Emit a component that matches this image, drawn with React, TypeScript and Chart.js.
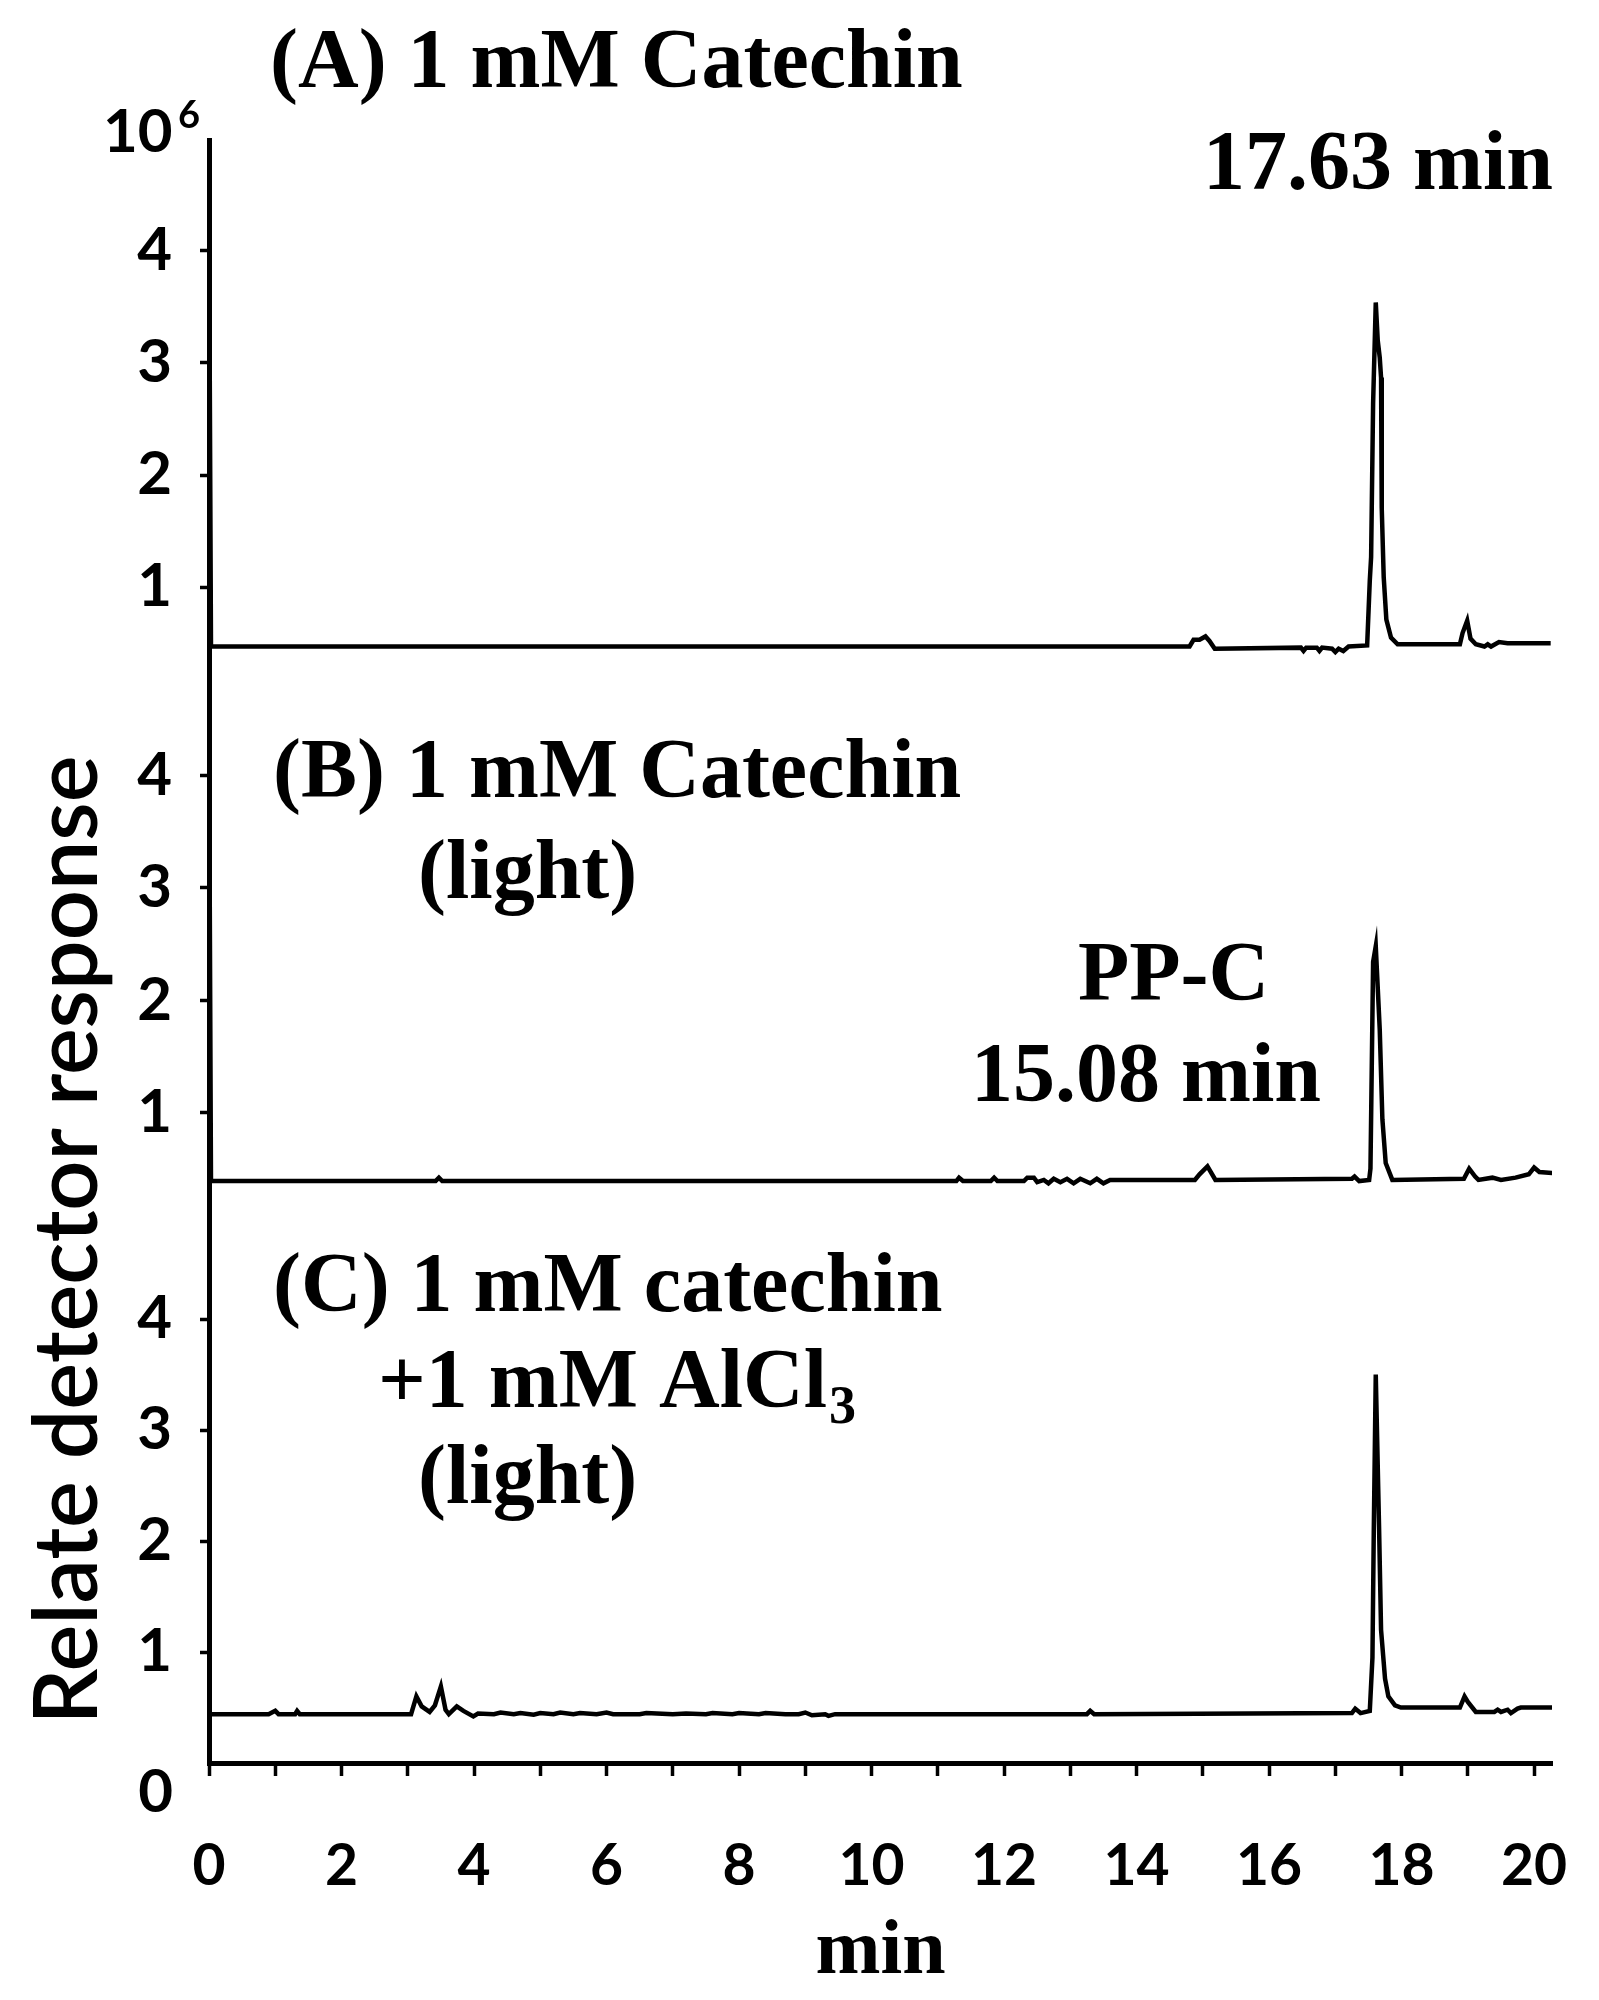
import React, { useEffect, useRef } from "react";
import { Chart, registerables } from "chart.js";

Chart.register(...registerables);

// ---- data (minutes, relative detector response x10^6) ----
const timesA = [0, 0.03, 14.8, 14.86, 14.95, 15.04, 15.1, 15.18, 16.48, 16.52, 16.56, 16.72, 16.76, 16.8, 16.95, 17.0, 17.05, 17.12, 17.2, 17.48, 17.52, 17.54, 17.57, 17.61, 17.64, 17.67, 17.69, 17.7, 17.73, 17.77, 17.84, 17.94, 18.88, 18.92, 18.99, 19.04, 19.12, 19.25, 19.3, 19.35, 19.47, 19.6, 20.25];
const valuesA = [4.4, 0.47, 0.47, 0.53, 0.53, 0.56, 0.52, 0.45, 0.46, 0.43, 0.46, 0.46, 0.43, 0.46, 0.45, 0.42, 0.45, 0.43, 0.47, 0.48, 1.06, 1.27, 2.64, 3.54, 3.2, 3.05, 2.87, 1.71, 1.09, 0.71, 0.55, 0.49, 0.49, 0.59, 0.7, 0.54, 0.49, 0.47, 0.49, 0.47, 0.51, 0.5, 0.5];

const timesB = [0, 0.03, 3.42, 3.47, 3.52, 11.28, 11.32, 11.38, 11.8, 11.85, 11.9, 12.3, 12.35, 12.45, 12.5, 12.6, 12.67, 12.75, 12.85, 12.95, 13.05, 13.15, 13.3, 13.4, 13.5, 13.6, 14.88, 14.95, 15.07, 15.19, 17.25, 17.29, 17.36, 17.51, 17.53, 17.57, 17.61, 17.67, 17.71, 17.76, 17.86, 18.94, 19.02, 19.11, 19.16, 19.37, 19.5, 19.72, 19.92, 20.0, 20.08, 20.28];
const valuesB = [4.44, 0.39, 0.39, 0.42, 0.39, 0.39, 0.42, 0.39, 0.39, 0.42, 0.39, 0.39, 0.42, 0.42, 0.38, 0.4, 0.37, 0.41, 0.38, 0.41, 0.37, 0.41, 0.37, 0.41, 0.37, 0.4, 0.4, 0.45, 0.52, 0.4, 0.41, 0.43, 0.39, 0.4, 0.5, 2.34, 2.48, 1.74, 0.94, 0.55, 0.4, 0.41, 0.5, 0.43, 0.4, 0.42, 0.4, 0.42, 0.45, 0.51, 0.47, 0.46];

const timesC = [0, 0.9, 1.0, 1.05, 1.3, 1.33, 1.37, 3.05, 3.13, 3.21, 3.33, 3.41, 3.5, 3.57, 3.62, 3.74, 3.84, 3.99, 4.06, 4.3, 4.4, 4.6, 4.7, 4.9, 5.0, 5.2, 5.3, 5.5, 5.6, 5.85, 6.0, 6.1, 6.5, 6.6, 7.0, 7.2, 7.5, 7.6, 7.9, 8.0, 8.3, 8.4, 8.7, 8.9, 9.0, 9.1, 9.3, 9.35, 9.45, 13.25, 13.3, 13.36, 17.25, 17.3, 17.38, 17.52, 17.56, 17.58, 17.61, 17.66, 17.69, 17.75, 17.8, 17.9, 17.99, 18.88, 18.95, 19.0, 19.12, 19.4, 19.45, 19.5, 19.6, 19.65, 19.75, 19.8, 20.28];
const valuesC = [0.44, 0.44, 0.47, 0.44, 0.44, 0.47, 0.44, 0.44, 0.6, 0.51, 0.46, 0.52, 0.69, 0.48, 0.44, 0.51, 0.47, 0.42, 0.445, 0.44, 0.455, 0.44, 0.45, 0.435, 0.45, 0.44, 0.455, 0.44, 0.45, 0.44, 0.455, 0.44, 0.44, 0.45, 0.44, 0.445, 0.44, 0.45, 0.44, 0.45, 0.44, 0.45, 0.44, 0.44, 0.455, 0.43, 0.44, 0.425, 0.44, 0.44, 0.47, 0.44, 0.45, 0.49, 0.45, 0.47, 0.95, 2.08, 3.5, 2.12, 1.2, 0.76, 0.6, 0.52, 0.5, 0.5, 0.6, 0.55, 0.46, 0.46, 0.48, 0.46, 0.48, 0.45, 0.49, 0.5, 0.5];

const xTicks = [0, 1, 2, 3, 4, 5, 6, 7, 8, 9, 10, 11, 12, 13, 14, 15, 16, 17, 18, 19, 20];
const xLabelled = [0, 2, 4, 6, 8, 10, 12, 14, 16, 18, 20];
const yTicks = [1, 2, 3, 4];

const TICK_FONT = { family: "Lato", weight: "bold" as const, size: 60 };
const SERIF = '"Liberation Serif", "Times New Roman", serif';

const annotations = {
  id: "annotations",
  afterDraw(chart: any) {
    const ctx = chart.ctx as CanvasRenderingContext2D;
    ctx.save();
    ctx.fillStyle = "#000";
    ctx.textAlign = "left";
    ctx.textBaseline = "alphabetic";
    ctx.font = `bold 84px ${SERIF}`;
    ctx.fillText("(A) 1 mM Catechin", 270, 87);
    ctx.fillText("17.63 min", 1203, 189);
    ctx.fillText("(B) 1 mM Catechin", 273, 797);
    ctx.fillText("(light)", 418, 898);
    ctx.fillText("PP-C", 1078, 1000);
    ctx.fillText("15.08 min", 971, 1101);
    ctx.fillText("(C) 1 mM catechin", 273, 1311);
    const main = "+1 mM AlCl";
    ctx.fillText(main, 378, 1407);
    const w = ctx.measureText(main).width;
    ctx.font = `bold 54px ${SERIF}`;
    ctx.fillText("3", 378 + w + 2, 1423);
    ctx.font = `bold 84px ${SERIF}`;
    ctx.fillText("(light)", 418, 1503);

    // exponent label on top of the y axis and the 0 at the origin
    ctx.font = "bold 60px Lato";
    ctx.fillText("10", 103, 152);
    ctx.font = "bold 38px Lato";
    ctx.fillText("6", 178, 128);
    ctx.font = "bold 60px Lato";
    ctx.textAlign = "right";
    ctx.fillText("0", 173, 1812);

    // y axis title
    ctx.translate(97, 1240);
    ctx.rotate(-Math.PI / 2);
    ctx.textAlign = "center";
    ctx.font = "600 88px Lato";
    ctx.fillText("Relate detector response", 0, 0);
    ctx.restore();
  },
};

function yAxis(weight: number, max: number) {
  return {
    type: "linear" as const,
    position: "left" as const,
    stack: "panels",
    stackWeight: weight,
    min: 0,
    max,
    afterFit: (s: any) => {
      s.width = 209;
      s.paddingTop = 0;
      s.paddingBottom = 0;
    },
    afterBuildTicks: (s: any) => {
      s.ticks = yTicks.map((v) => ({ value: v }));
    },
    grid: {
      drawOnChartArea: false,
      drawTicks: true,
      tickLength: 9,
      tickWidth: 3.5,
      tickColor: "#000",
    },
    border: { display: true, color: "#000", width: 5 },
    ticks: {
      color: "#000",
      font: TICK_FONT,
      padding: 28,
      callback: (v: any) => String(v),
    },
  };
}

export default function App() {
  const ref = useRef<HTMLCanvasElement>(null);
  useEffect(() => {
    if (!ref.current) return;
    const pts = (t: number[], v: number[]) => t.map((x, i) => ({ x, y: v[i] }));
    const line = { borderColor: "#000", borderWidth: 4.5, pointRadius: 0, tension: 0, fill: false };
    const chart = new Chart(ref.current, {
      type: "line",
      data: {
        datasets: [
          { label: "A", data: pts(timesA, valuesA), yAxisID: "yA", ...line },
          { label: "B", data: pts(timesB, valuesB), yAxisID: "yB", ...line },
          { label: "C", data: pts(timesC, valuesC), yAxisID: "yC", ...line },
        ],
      },
      options: {
        animation: false,
        responsive: false,
        layout: { padding: { left: 0, right: 47, top: 140, bottom: 0 } },
        plugins: { legend: { display: false }, tooltip: { enabled: false } },
        scales: {
          x: {
            type: "linear",
            min: 0,
            max: 20.27,
            afterFit: (s: any) => {
              s.height = 237;
              s.paddingLeft = 0;
              s.paddingRight = 0;
            },
            afterBuildTicks: (s: any) => {
              s.ticks = xTicks.map((v) => ({ value: v }));
            },
            grid: {
              drawOnChartArea: false,
              drawTicks: true,
              tickLength: 13,
              tickWidth: 3.5,
              tickColor: "#000",
            },
            border: { display: true, color: "#000", width: 5 },
            ticks: {
              color: "#000",
              font: { family: "Lato", weight: "bold", size: 57 },
              autoSkip: false,
              maxRotation: 0,
              padding: 56,
              callback: (v: any) => (xLabelled.includes(Number(v)) ? String(v) : ""),
            },
            title: {
              display: true,
              text: "min",
              color: "#000",
              font: { family: "Liberation Serif", weight: "bold", size: 78 },
              padding: { top: 0, bottom: 0 },
            },
          },
          yC: yAxis(538, 4.85),
          yB: yAxis(525.5, 4.68),
          yA: yAxis(559, 4.99),
        } as any,
      },
      plugins: [annotations],
    });
    return () => chart.destroy();
  }, []);
  return (
    <div style={{ position: "absolute", left: 0, top: 0, width: 1599, height: 2000, background: "#fff" }}>
      <canvas ref={ref} width={1599} height={2000} style={{ width: 1599, height: 2000, display: "block" }} />
    </div>
  );
}
